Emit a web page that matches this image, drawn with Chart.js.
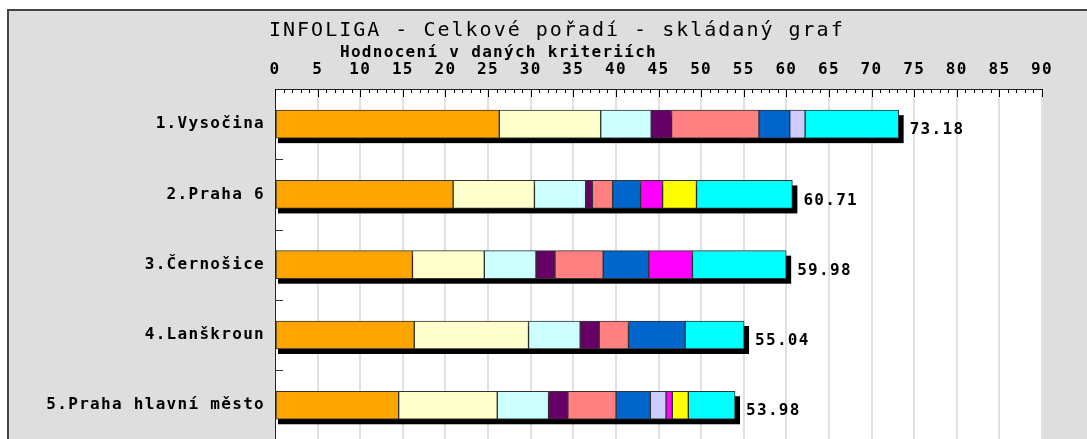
<!DOCTYPE html>
<html>
<head>
<meta charset="utf-8">
<script src="https://cdn.jsdelivr.net/npm/chart.js@4/dist/chart.umd.min.js"></script>
<style>
  html, body { margin: 0; padding: 0; background: #ffffff; overflow: hidden; }
  canvas { display: block; }
</style>
</head>
<body>
<canvas id="c" width="1087" height="460"></canvas>
<script>
// ---- data ----
const chartTitle = 'INFOLIGA - Celkové pořadí - skládaný graf';
const axisTitle = 'Hodnocení v daných kriteriích';
const categories = ['1.Vysočina', '2.Praha 6', '3.Černošice', '4.Lanškroun', '5.Praha hlavní město'];
const totals = ['73.18', '60.71', '59.98', '55.04', '53.98'];
const xMin = 0, xMax = 90, xStep = 5;

const seriesNames = ['Kritérium 1', 'Kritérium 2', 'Kritérium 3', 'Kritérium 4', 'Kritérium 5',
                     'Kritérium 6', 'Kritérium 7', 'Kritérium 8', 'Kritérium 9', 'Kritérium 10'];
const seriesColors = ['#FFA500', '#FFFFCC', '#CCFFFF', '#660066', '#FF8080',
                      '#0066CC', '#CCCCFF', '#FF00FF', '#FFFF00', '#00FFFF'];

const s1  = [26.32, 20.90, 16.13, 16.34, 14.51];
const s2  = [11.90,  9.54,  8.43, 13.41, 11.57];
const s3  = [ 5.92,  6.01,  6.06,  6.06,  6.02];
const s4  = [ 2.39,  0.79,  2.23,  2.23,  2.26];
const s5  = [10.26,  2.38,  5.66,  3.44,  5.66];
const s6  = [ 3.61,  3.28,  5.35,  6.65,  4.02];
const s7  = [ 1.80,  0,     0,     0,     1.84];
const s8  = [ 0,     2.58,  5.12,  0,     0.74];
const s9  = [ 0,     3.98,  0,     0,     1.88];
const s10 = [10.98, 11.25, 11.00,  6.91,  5.48];
const seriesValues = [s1, s2, s3, s4, s5, s6, s7, s8, s9, s10];

// ---- styling ----
const MONO = '"DejaVu Sans Mono", "Liberation Mono", monospace';
const SPACING = '1.3px';

const datasets = seriesValues.map((vals, i) => ({
  label: seriesNames[i],
  data: vals.map(v => (v === 0 ? null : v)),
  backgroundColor: seriesColors[i],
  borderColor: '#333333',
  borderWidth: 1,
  borderSkipped: false,
  barThickness: 28
}));

function edgeElements(chart, index) {
  let first = null, last = null;
  chart.data.datasets.forEach((ds, di) => {
    if (ds.data[index] !== null && ds.data[index] !== undefined) {
      const el = chart.getDatasetMeta(di).data[index];
      if (!first) first = el;
      last = el;
    }
  });
  return { first, last };
}

const framePlugin = {
  id: 'frame',
  beforeDraw(chart) {
    const ctx = chart.ctx;
    const a = chart.chartArea;
    ctx.save();
    ctx.fillStyle = '#ffffff';
    ctx.fillRect(0, 0, chart.width, chart.height);
    ctx.fillStyle = '#DEDEDE';
    ctx.fillRect(8, 10, chart.width - 8, chart.height - 10);
    ctx.fillStyle = '#444444';
    ctx.fillRect(7, 10, 2, chart.height - 10);
    ctx.fillRect(7, 9, chart.width - 7, 2);
    ctx.fillStyle = '#ffffff';
    ctx.fillRect(a.left, a.top, a.right - a.left, a.bottom - a.top);
    ctx.restore();
    // titles
    ctx.save();
    ctx.fillStyle = '#000000';
    ctx.textAlign = 'left';
    ctx.textBaseline = 'alphabetic';
    ctx.letterSpacing = '2px';
    ctx.font = '20px ' + MONO;
    ctx.fillText(chartTitle, 269, 36);
    ctx.letterSpacing = SPACING;
    ctx.font = 'bold 16px ' + MONO;
    ctx.fillText(axisTitle, 340, 57);
    ctx.restore();
    chart.ctx.letterSpacing = SPACING;
  },
  beforeDatasetsDraw(chart) {
    const ctx = chart.ctx;
    ctx.save();
    ctx.fillStyle = '#000000';
    categories.forEach((c, i) => {
      const { first, last } = edgeElements(chart, i);
      if (!first || !last) return;
      const f = first.getProps(['base'], true);
      const p = last.getProps(['x', 'y', 'height'], true);
      const left = f.base + 2;
      const right = p.x + 5;
      ctx.fillRect(left, p.y - p.height / 2 + 5, right - left, p.height);
    });
    ctx.restore();
  },
  afterDatasetsDraw(chart) {
    const ctx = chart.ctx;
    const xs = chart.scales.x;
    const ys = chart.scales.y;
    const a = chart.chartArea;
    ctx.save();
    // value labels
    ctx.fillStyle = '#000000';
    ctx.font = 'bold 16px ' + MONO;
    ctx.letterSpacing = SPACING;
    ctx.textAlign = 'left';
    ctx.textBaseline = 'middle';
    categories.forEach((c, i) => {
      const { last } = edgeElements(chart, i);
      if (!last) return;
      const p = last.getProps(['x', 'y'], true);
      ctx.fillText(totals[i], p.x + 11, p.y + 6);
    });
    // minor / major ticks pointing down into plot area
    ctx.strokeStyle = '#000000';
    ctx.lineWidth = 1;
    ctx.beginPath();
    for (let v = xMin; v <= xMax; v += 1) {
      const px = Math.round(xs.getPixelForValue(v)) + 0.5;
      const len = (v % xStep === 0) ? 8 : 4;
      ctx.moveTo(px, a.top);
      ctx.lineTo(px, a.top + len);
    }
    ctx.stroke();
    // category boundary ticks on the left axis
    ctx.strokeStyle = '#333333';
    ctx.beginPath();
    for (let i = 0; i < categories.length - 1; i++) {
      const py = Math.round((ys.getPixelForValue(i) + ys.getPixelForValue(i + 1)) / 2) + 0.5;
      ctx.moveTo(a.left, py);
      ctx.lineTo(a.left + 8, py);
    }
    ctx.stroke();
    ctx.restore();
  }
};

new Chart(document.getElementById('c'), {
  type: 'bar',
  data: { labels: categories, datasets },
  options: {
    indexAxis: 'y',
    responsive: false,
    animation: false,
    layout: { padding: { left: 0, top: 0, right: 45, bottom: 0 } },
    plugins: {
      legend: { display: false },
      tooltip: { enabled: false },
      title: { display: false }
    },
    scales: {
      x: {
        position: 'top',
        stacked: true,
        min: xMin,
        max: xMax,
        afterFit(scale) { scale.height = 89; },
        ticks: {
          stepSize: xStep,
          autoSkip: false,
          maxRotation: 0,
          padding: 10,
          color: '#000000',
          font: { family: MONO, size: 16, weight: 'bold' }
        },
        grid: { color: '#E0E0E0', lineWidth: 2, drawTicks: false },
        border: { display: true, color: '#222222', width: 1 }
      },
      y: {
        stacked: true,
        afterFit(scale) { scale.width = 275; },
        ticks: {
          padding: 10,
          color: '#000000',
          font: { family: MONO, size: 16, weight: 'bold' }
        },
        grid: { display: false, drawTicks: false },
        border: { display: true, color: '#222222', width: 1 }
      }
    }
  },
  plugins: [framePlugin]
});
</script>
</body>
</html>
